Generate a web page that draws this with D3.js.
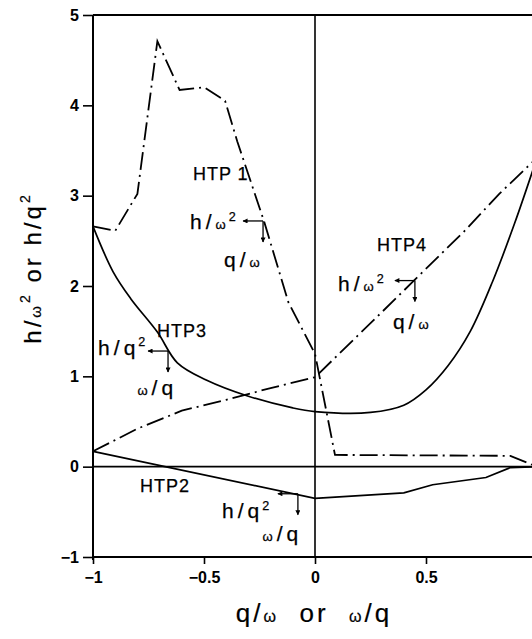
<!DOCTYPE html>
<html>
<head>
<meta charset="utf-8">
<script src="https://cdn.jsdelivr.net/npm/d3@7"></script>
<style>
  body { margin: 0; background: #fff; }
  text { font-family: "Liberation Sans", Arial, sans-serif; fill: #000; }
</style>
</head>
<body>
<div id="chart"></div>
<script>
// tick values and labels
const xTicks = [-1, -0.5, 0, 0.5];
const xTickLabels = ["\u22121", "\u22120.5", "0", "0.5"];
const yTicks = [-1, 0, 1, 2, 3, 4, 5];
const yTickLabels = ["\u22121", "0", "1", "2", "3", "4", "5"];

// curves, [x, y]
const htp1 = [[-1, 2.66], [-0.9, 2.61], [-0.8, 3.02], [-0.71, 4.71], [-0.61, 4.17], [-0.5, 4.2],
              [-0.405, 4.05], [-0.35, 3.6], [-0.23, 2.72], [-0.12, 1.82], [0, 1.25], [0.09, 0.13],
              [0.88, 0.12], [1, 0]];
const htp2 = [[-1, 0.17], [0, -0.35], [0.4, -0.29], [0.53, -0.2], [0.77, -0.12], [0.88, -0.01], [1, 0]];
const htp3 = [[-1, 2.66], [-0.91, 2.16], [-0.83, 1.86], [-0.71, 1.49], [-0.62, 1.15], [-0.49, 0.96],
              [-0.3, 0.78], [-0.1, 0.65], [0, 0.61], [0.25, 0.6], [0.4, 0.68], [0.5, 0.85], [0.6, 1.12],
              [0.7, 1.5], [0.8, 2.05], [0.9, 2.7], [1, 3.42]];
const htp4 = [[-1, 0.17], [-0.8, 0.42], [-0.6, 0.62], [-0.4, 0.74], [-0.2, 0.87], [0, 0.99],
              [0.28, 1.66], [0.45, 2.07], [0.67, 2.6], [0.83, 3.02], [1, 3.42]];

// curve names and the arrow corners (points on the curves)
const curveNames = [
  {text: "HTP 1", x: -0.55, y: 3.17},
  {text: "HTP4", x: 0.279, y: 2.39},
  {text: "HTP3", x: -0.712, y: 1.44},
  {text: "HTP2", x: -0.788, y: -0.28}
];
const arrowNotes = [
  {corner: [-0.234, 2.72], top: ["h", "\u03c9"], topAt: [-0.563, 2.63], bottom: ["q", "\u03c9"], bottomAt: [-0.41, 2.21]},
  {corner: [0.45, 2.06], top: ["h", "\u03c9"], topAt: [0.104, 1.94], bottom: ["q", "\u03c9"], bottomAt: [0.351, 1.52]},
  {corner: [-0.662, 1.28], top: ["h", "q"], topAt: [-0.977, 1.24], bottom: ["\u03c9", "q"], bottomAt: [-0.8, 0.79]},
  {corner: [-0.077, -0.3], top: ["h", "q"], topAt: [-0.419, -0.57], bottom: ["\u03c9", "q"], bottomAt: [-0.236, -0.82]}
];

const width = 532, height = 639;

const x = d3.scaleLinear().domain([-1, 1]).range([93, 537]);
const y = d3.scaleLinear().domain([-1, 5]).range([557, 15]);

const svg = d3.select("#chart").append("svg")
    .attr("width", width)
    .attr("height", height);

svg.append("defs").append("marker")
    .attr("id", "head")
    .attr("viewBox", "0 0 10 10")
    .attr("refX", 9).attr("refY", 5)
    .attr("markerWidth", 8).attr("markerHeight", 5)
    .attr("markerUnits", "userSpaceOnUse")
    .attr("orient", "auto")
  .append("path")
    .attr("d", "M0,0 L10,5 L0,10 Z")
    .attr("fill", "#000");

// frame: left axis, top line, bottom line, zero lines
const frame = svg.append("g").attr("stroke", "#000").attr("fill", "none");
frame.append("line").attr("x1", x(-1)).attr("x2", x(-1)).attr("y1", y(5)).attr("y2", y(-1) + 3).attr("stroke-width", 2);
frame.append("line").attr("x1", x(-1)).attr("x2", width).attr("y1", y(5)).attr("y2", y(5)).attr("stroke-width", 2);
frame.append("line").attr("x1", x(-1)).attr("x2", width).attr("y1", y(-1)).attr("y2", y(-1)).attr("stroke-width", 2);
frame.append("line").attr("x1", x(-1)).attr("x2", width).attr("y1", y(0)).attr("y2", y(0)).attr("stroke-width", 1.6);
frame.append("line").attr("x1", x(0)).attr("x2", x(0)).attr("y1", y(5)).attr("y2", y(-1)).attr("stroke-width", 1.6);

// y axis ticks
const yAxis = d3.axisLeft(y).tickValues(yTicks).tickSize(10).tickPadding(4)
    .tickFormat((d, i) => yTickLabels[i]);
svg.append("g").attr("transform", `translate(${x(-1)},0)`).call(yAxis)
    .call(g => g.select(".domain").remove())
    .call(g => g.selectAll("line").attr("stroke-width", 1.6))
    .call(g => g.selectAll("text").attr("font-size", 16).attr("font-weight", "bold")
        .attr("font-family", "'Liberation Sans', Arial, sans-serif"));

// x axis ticks
const xAxis = d3.axisBottom(x).tickValues(xTicks).tickSize(7).tickPadding(8)
    .tickFormat((d, i) => xTickLabels[i]);
svg.append("g").attr("transform", `translate(0,${y(-1)})`).call(xAxis)
    .call(g => g.select(".domain").remove())
    .call(g => g.selectAll("line").attr("stroke-width", 1.6))
    .call(g => g.selectAll("text").attr("font-size", 16).attr("font-weight", "bold")
        .attr("font-family", "'Liberation Sans', Arial, sans-serif"));

// curves
const line = d3.line().x(d => x(d[0])).y(d => y(d[1]));
const smooth = d3.line().x(d => x(d[0])).y(d => y(d[1])).curve(d3.curveCatmullRom.alpha(0.5));

const dashDot = "18,5,2,5";
svg.append("path").datum(htp1).attr("d", line)
    .attr("fill", "none").attr("stroke", "#000").attr("stroke-width", 1.8).attr("stroke-dasharray", dashDot);
svg.append("path").datum(htp4).attr("d", line)
    .attr("fill", "none").attr("stroke", "#000").attr("stroke-width", 1.8).attr("stroke-dasharray", dashDot);
svg.append("path").datum(htp3).attr("d", smooth)
    .attr("fill", "none").attr("stroke", "#000").attr("stroke-width", 1.7);
svg.append("path").datum(htp2).attr("d", line)
    .attr("fill", "none").attr("stroke", "#000").attr("stroke-width", 1.7);

// curve names
svg.append("g").selectAll("text").data(curveNames).join("text")
    .attr("x", d => x(d.x)).attr("y", d => y(d.y))
    .attr("font-size", 18)
    .attr("letter-spacing", 1)
    .attr("stroke", "#000").attr("stroke-width", 0.25)
    .text(d => d.text);

// ratio label like h/ω² or ω/q, omega drawn small
function ratio(sel, parts, sq, size) {
  parts.forEach((p, i) => {
    sel.append("tspan").attr("font-size", p === "\u03c9" ? size * 0.62 : size).attr("dx", i === 0 ? 0 : 4).text(p);
    if (i === 0) sel.append("tspan").attr("font-size", size).attr("dx", 4).text("/");
  });
  if (sq) sel.append("tspan").attr("font-size", size * 0.6).attr("dy", -size * 0.4).attr("dx", 3).text("2");
}

arrowNotes.forEach(n => {
  const cx = x(n.corner[0]), cy = y(n.corner[1]);
  svg.append("line").attr("x1", cx).attr("y1", cy).attr("x2", cx - 20).attr("y2", cy)
      .attr("stroke", "#000").attr("stroke-width", 1.3).attr("marker-end", "url(#head)");
  svg.append("line").attr("x1", cx).attr("y1", cy).attr("x2", cx).attr("y2", cy + 21)
      .attr("stroke", "#000").attr("stroke-width", 1.3).attr("marker-end", "url(#head)");
  const t = svg.append("text").attr("x", x(n.topAt[0])).attr("y", y(n.topAt[1]))
      .attr("stroke", "#000").attr("stroke-width", 0.25);
  ratio(t, n.top, true, 21);
  const b = svg.append("text").attr("x", x(n.bottomAt[0])).attr("y", y(n.bottomAt[1]))
      .attr("stroke", "#000").attr("stroke-width", 0.25);
  ratio(b, n.bottom, false, 21);
});

// axis titles
const xt = svg.append("text").attr("x", 314).attr("y", 622).attr("text-anchor", "middle")
    .attr("font-size", 26).attr("letter-spacing", 3).attr("stroke", "#000").attr("stroke-width", 0.2);
xt.append("tspan").text("q/");
xt.append("tspan").attr("font-size", 16).text("\u03c9");
xt.append("tspan").text("\u00a0\u00a0or\u00a0\u00a0");
xt.append("tspan").attr("font-size", 16).text("\u03c9");
xt.append("tspan").text("/q");

const yt = svg.append("text").attr("transform", "translate(41,268) rotate(-90)")
    .attr("text-anchor", "middle").attr("font-size", 24).attr("letter-spacing", 3)
    .attr("stroke", "#000").attr("stroke-width", 0.2);
yt.append("tspan").text("h/");
yt.append("tspan").attr("font-size", 15).text("\u03c9");
yt.append("tspan").attr("font-size", 14).attr("dy", -11).text("2");
yt.append("tspan").attr("dy", 11).text("\u00a0or\u00a0h/q");
yt.append("tspan").attr("font-size", 14).attr("dy", -11).text("2");
</script>
</body>
</html>
